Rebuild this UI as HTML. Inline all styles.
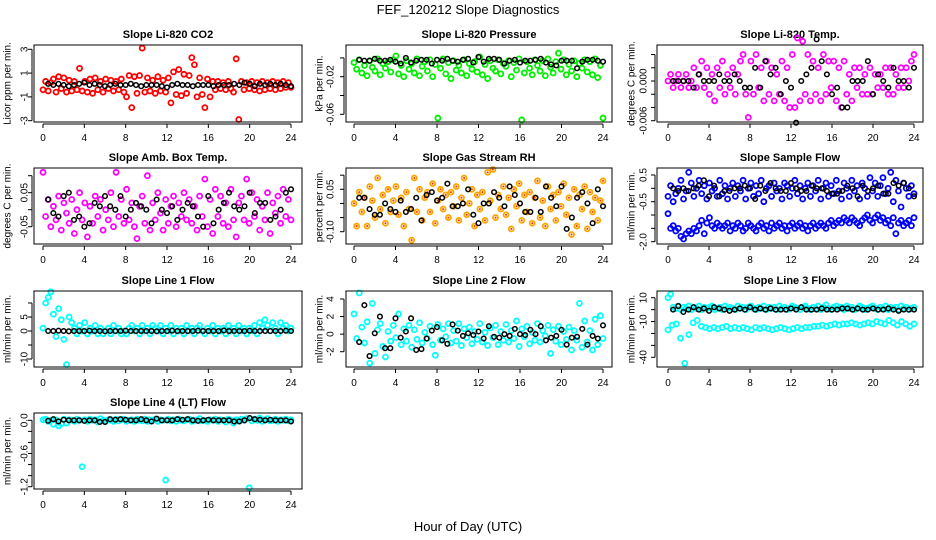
<!DOCTYPE html>
<html><head><meta charset="utf-8">
<style>
body{margin:0;background:#fff;}
svg{display:block;font-family:"Liberation Sans",sans-serif;}
</style></head>
<body>
<svg id="chart" width="936" height="540" viewBox="0 0 936 540" xmlns="http://www.w3.org/2000/svg">
<rect width="936" height="540" fill="#fff"/>
<text x="468" y="14" text-anchor="middle" font-size="13">FEF_120212  Slope Diagnostics</text>
<text x="468" y="531" text-anchor="middle" font-size="13">Hour of Day (UTC)</text>
</svg>
<script>
const xTicks=[0,4,8,12,16,20,24];
const co2Red=[-0.4,0.3,-0.5,0.2,0.5,-0.6,0.7,-0.3,0.6,-0.6,0.4,-0.5,0.3,-0.4,1.4,-0.5,0.3,-0.6,0.5,-0.7,0.6,-0.4,0.3,-0.6,0.5,-0.3,0.4,-0.5,0.3,-0.4,0.5,-0.6,-1.0,0.8,-1.9,0.7,-0.7,0.8,3.1,-0.6,0.6,-0.5,0.4,-0.7,0.7,-0.5,0.4,-0.6,0.6,-1.5,1.1,-0.8,1.3,-0.9,0.9,-0.7,0.8,2.3,1.7,-1.0,0.6,-0.8,-1.9,0.5,-1.0,0.3,-0.4,0.3,-0.3,0.2,-0.4,0.3,-0.3,-0.6,2.2,-2.9,0.3,-0.4,0.2,-0.3,0.3,-0.4,0.2,-0.5,0.3,-0.4,0.2,-0.3,0.3,-0.4,0.2,-0.3,0.3,-0.2,0.2,-0.2];
const co2Black=[0.1,0.0,0.1,0.0,-0.1,0.0,0.1,0.2,0.0,0.1,0.0,-0.1,0.0,0.1,0.0,0.0,0.1,0.0,-0.1,0.0,0.0,0.0,-0.1,-0.2,0.0,0.1,0.0,0.0,-0.1,0.0,0.0,0.0,-0.1,0.0,0.0,0.0,0.1,0.0,0.2,0.1,-0.1,0.1,0.0,0.1,0.0,0.1,0.0,-0.1];
const presGreen=[-0.005,-0.012,-0.002,-0.016,-0.008,-0.019,-0.003,-0.010,-0.014,-0.001,-0.018,-0.006,-0.011,-0.004,-0.015,-0.002,0.002,-0.017,-0.008,-0.020,-0.003,-0.012,-0.006,-0.016,-0.001,-0.019,-0.009,-0.004,-0.014,-0.002,-0.020,-0.007,-0.064,-0.011,-0.001,-0.017,-0.005,-0.022,-0.003,-0.013,-0.008,-0.016,-0.002,-0.019,-0.006,-0.012,-0.004,-0.015,0.001,-0.018,-0.007,-0.022,-0.003,-0.011,-0.014,-0.002,-0.017,-0.006,-0.009,-0.003,-0.020,-0.005,-0.013,-0.001,-0.066,-0.016,-0.004,-0.011,-0.018,-0.002,-0.008,-0.014,-0.003,-0.019,-0.001,-0.010,-0.016,-0.004,0.005,-0.012,-0.002,-0.018,-0.007,-0.014,-0.003,-0.020,-0.006,-0.011,-0.002,-0.015,-0.004,-0.018,-0.001,-0.021,-0.008,-0.064];
const presBlack=[-0.002,-0.003,-0.003,-0.001,-0.003,-0.003,-0.002,-0.004,-0.006,0.000,-0.005,-0.003,-0.002,-0.002,-0.006,-0.002,-0.003,-0.001,-0.003,-0.004,-0.002,-0.001,-0.005,0.001,-0.004,-0.001,-0.001,-0.002,-0.006,-0.003,-0.002,-0.005,-0.003,-0.003,-0.002,-0.001,-0.005,-0.007,-0.008,-0.003,-0.003,-0.003,-0.011,-0.004,-0.002,-0.002,-0.003,-0.004];
const tempMag=[0.000,0.001,-0.001,0.000,0.001,-0.001,0.000,0.001,-0.001,0.000,0.002,-0.001,0.001,0.003,-0.001,0.002,-0.002,0.001,-0.003,0.002,-0.001,0.003,-0.002,0.001,-0.001,0.002,-0.002,0.001,0.003,0.004,-0.002,-0.0055,0.003,-0.002,0.004,-0.001,0.002,-0.003,0.003,-0.002,0.002,-0.003,0.001,-0.002,0.003,-0.003,0.002,-0.004,0.004,-0.004,0.0065,-0.003,0.006,-0.002,0.004,-0.003,0.003,-0.002,0.002,-0.003,0.004,-0.002,0.003,-0.001,0.003,-0.003,0.002,-0.004,0.003,-0.002,0.001,-0.003,0.002,-0.001,0.002,-0.002,0.001,-0.002,0.002,-0.002,0.001,-0.001,0.001,-0.001,0.002,-0.002,0.002,-0.002,0.001,-0.001,0.002,-0.001,0.002,0.000,0.003,0.004];
const tempBlack=[0,0,0,0,-0.001,0.001,0,0,0,0.001,0,0,0.001,0,-0.001,-0.001,0.002,-0.001,0.003,0.001,0.002,-0.002,0,-0.001,-0.0063,0,0.001,0.002,0.0063,0.003,0.001,-0.002,-0.001,-0.004,-0.004,0,0,0,0.003,-0.002,0.001,0,-0.001,0.002,0,0,-0.001,0.002];
const ambMag=[0.11,-0.02,0.03,-0.05,0.01,-0.03,0.04,-0.06,0.02,-0.01,-0.04,0.03,-0.07,0.00,0.05,-0.03,0.02,-0.08,0.01,-0.04,0.04,-0.02,0.03,-0.06,0.00,-0.03,0.05,-0.05,0.11,-0.02,0.03,-0.04,0.06,-0.03,0.02,-0.05,-0.085,0.01,0.04,-0.04,0.10,-0.06,0.02,-0.03,0.05,-0.01,-0.06,0.03,-0.04,0.01,0.04,-0.05,0.02,-0.02,0.05,-0.03,0.03,-0.04,0.01,-0.06,0.04,-0.02,0.09,-0.05,0.03,-0.07,0.06,-0.02,0.04,-0.04,0.02,-0.05,0.06,-0.03,-0.08,0.02,0.04,-0.03,0.09,-0.04,0.05,-0.02,0.03,-0.06,0.01,-0.03,0.05,-0.07,0.02,-0.01,0.04,-0.04,0.06,-0.02,0.03,-0.03];
const ambBlack=[0.03,-0.01,-0.02,0.04,0.05,-0.03,-0.02,-0.05,-0.04,0.02,0.01,0.04,0.01,0.00,0.04,-0.02,0.00,0.02,0.01,0.00,-0.04,0.03,0.00,-0.01,0.01,-0.03,0.00,0.02,0.01,-0.02,-0.05,0.04,-0.04,0.00,0.02,0.05,0.01,0.00,0.01,0.05,-0.01,0.02,0.02,-0.03,-0.02,0.00,0.05,0.06];
const rhOrange=[0.00,-0.08,0.04,-0.03,0.02,-0.08,0.06,0.01,-0.05,0.09,-0.02,0.03,-0.07,0.05,-0.03,0.01,0.06,-0.04,0.02,-0.08,0.04,-0.02,-0.13,0.09,-0.03,0.05,-0.06,0.02,0.04,-0.03,0.07,-0.07,0.01,0.05,-0.02,0.03,-0.05,0.04,-0.01,0.06,-0.06,0.02,0.09,-0.04,0.00,0.05,-0.08,0.03,-0.02,0.04,-0.06,0.11,0.01,0.12,-0.05,0.03,-0.02,0.06,-0.04,0.02,-0.09,0.05,-0.01,0.07,-0.06,0.03,-0.03,0.04,-0.07,0.02,0.08,-0.05,0.01,-0.08,0.06,-0.02,0.03,-0.06,0.04,-0.01,0.07,-0.04,0.02,-0.11,0.05,-0.08,0.03,-0.02,0.06,-0.09,0.04,-0.03,0.02,-0.06,0.01,0.08];
const rhBlack=[0.02,0.02,-0.02,-0.04,-0.04,0.00,-0.02,-0.03,0.01,-0.03,-0.02,0.02,-0.06,0.03,0.04,0.01,0.02,0.07,-0.01,-0.01,0.00,0.05,-0.04,-0.07,0.00,0.00,0.04,0.02,-0.01,0.06,0.03,0.00,-0.03,-0.03,0.02,-0.03,0.06,0.02,-0.01,0.06,-0.09,-0.05,0.02,0.04,0.00,-0.07,0.05,-0.01];
const flowUpper=[-0.3,0.1,-0.5,-0.2,0.0,0.3,-0.4,-0.1,0.6,0.2,-0.3,0.0,0.3,-0.2,0.1,-0.4,0.2,-0.1,0.0,-0.3,0.3,-0.2,0.1,-0.4,0.0,0.2,-0.3,0.1,-0.1,0.3,-0.4,0.0,0.2,-0.3,0.1,-0.2,0.3,-0.5,0.0,0.1,-0.3,0.2,-0.1,0.0,-0.4,0.2,0.1,-0.3,0.0,0.3,-0.2,0.1,-0.4,0.0,0.2,-0.3,0.1,-0.1,0.3,-0.4,0.0,0.2,-0.3,0.1,-0.2,0.3,-0.1,-0.4,0.2,0.0,-0.3,0.3,-0.1,0.1,-0.4,0.2,0.0,-0.3,0.4,-0.1,0.2,-0.3,0.1,0.4,-0.2,0.0,0.6,-0.5,0.3,-0.1,-0.7,0.2,0.0,-0.3,0.1,-0.2];
const flowLower=[-0.95,-1.5,-1.4,-1.6,-1.5,-1.8,-1.9,-1.7,-1.6,-1.7,-1.5,-1.6,-1.4,-1.2,-1.7,-1.3,-1.1,-1.4,-1.5,-1.3,-1.4,-1.5,-1.4,-1.3,-1.6,-1.4,-1.5,-1.3,-1.4,-1.6,-1.5,-1.3,-1.4,-1.5,-1.6,-1.4,-1.3,-1.5,-1.4,-1.6,-1.3,-1.5,-1.4,-1.3,-1.5,-1.4,-1.6,-1.4,-1.3,-1.5,-1.4,-1.3,-1.5,-1.4,-1.6,-1.4,-1.3,-1.5,-1.4,-1.3,-1.4,-1.5,-1.3,-1.2,-1.4,-1.3,-1.2,-1.3,-1.1,-1.2,-1.3,-1.1,-1.2,-1.3,-1.4,-1.2,-1.1,-1.0,-1.2,-1.3,-1.1,-1.0,-1.2,-1.1,-1.3,-1.2,-1.4,-1.1,-1.7,-1.3,-1.2,-1.4,-1.3,-1.2,-1.4,-1.1];
const flowBlack=[0,-0.1,0.0,-0.1,0.0,0.1,0.3,-0.3,0.1,-0.3,-0.1,-0.1,0.0,0.0,0.1,0.0,-0.4,0.1,-0.1,0.2,0.0,-0.1,-0.1,0.2,0.0,-0.1,-0.1,0.1,0.0,0.0,-0.1,-0.2,-0.2,-0.1,0.1,0.0,-0.3,0.1,-0.1,0.0,0.1,-0.2,-0.2,0.2,0.1,0.2,0.0,-0.3];
const line1Cyan=[1,10,12,14,6,-2,8,4,-3,-12,5,3,1,-1,2,0,3,-1,1,0,2,-1,1,-1,0,1,-1,2,0,1,-1,0,-1,1,2,0,1,-1,2,0,1,-1,2,1,0,2,-1,1,0,2,-1,1,0,1,-1,2,0,1,-1,1,2,0,-1,1,0,2,-1,1,0,1,-1,2,0,1,-1,2,0,1,-1,1,0,2,-1,3,1,4,2,0,3,1,-1,3,1,2,0,1];
const line1Black=[0,0,0.1,0,-0.1,0,0,0,0.1,0,0,-0.1,0,0,0,0.1,0,0,0,0,0,-0.1,0,0,0.1,0,0,0,0,0.1,0,0,0,0,0.2,0,0,0,0,0.1,0,0,0,0,0,0,0.1,0];
const line2Cyan=[2.3,-0.5,4.7,0.8,-1,1.4,-3.3,3.5,-2.2,0.5,1.2,-1.4,-2.6,0.3,-0.8,1.0,-0.4,2.3,-1.2,0.6,-0.8,1.0,-1.5,0.5,-0.6,1.3,-1,0.2,-0.5,0.9,-1.2,-2.4,1.1,-0.7,0.6,-0.3,1.2,-1,0.4,-0.8,1.2,-1.3,0.6,-0.4,0.8,-1.1,0.3,-0.6,1.2,-0.9,0.2,-1.3,0.7,-0.4,1.0,-1.2,0.3,-0.7,1.1,-0.9,0.4,-0.5,1.5,-1.4,0.6,-0.3,0.9,-1.1,0.2,-0.7,1.2,-0.9,0.4,-0.2,1.0,-2.2,0.5,-0.8,0.9,-1.2,0.3,-0.6,0.8,-1.8,0.4,-0.7,3.5,-1.5,1.5,-0.9,0.4,-1.8,1.7,-1.2,2.1,-0.5];
const line2Black=[-0.9,3.3,-2.5,0.1,2.0,-1.6,-1.6,1.8,-0.4,0.3,1.8,-1.8,-1.7,-0.5,0.4,0.8,-0.7,-1.1,1.1,0.4,-0.2,0.1,-0.1,0.3,-0.5,0.9,-0.3,-0.4,0.0,-0.2,0.6,0.0,-0.1,0.5,0.0,0.9,-0.7,-0.4,-0.2,0.5,-1.2,-0.4,-0.3,0.6,-1.2,-0.2,-0.5,1.0];
const line3Upper=[10,13,2,1,3,0,2,1,3,0,2,1,3,0,2,1,2,3,0,1,2,0,3,1,2,1,0,3,1,2,0,2,3,1,0,2,1,3,0,2,1,2,0,3,1,2,0,1,3,2,1,0,2,3,1,0,2,1,3,0,2,4,1,0,2,3,1,2,0,3,1,2,0,1,3,2,0,1,2,3,1,0,2,1,3,0,2,1,2,0,3,1,2,0,1,2];
const line3Lower=[-17,-13,-12,-24,-45,-21,-11,-9,-14,-15,-16,-15,-16,-15,-14,-16,-15,-16,-15,-16,-17,-15,-16,-15,-16,-17,-16,-15,-16,-17,-16,-15,-16,-15,-15,-14,-14,-13,-14,-13,-12,-13,-12,-12,-11,-12,-13,-12,-11,-12,-10,-11,-12,-9,-11,-13,-10,-12,-14,-12];
const line3Black=[0,3,-2,0,2,0,1,-1,2,1,0,-1,0,1,0,2,0,1,0,1,0,0,0,1,0,2,0,0,0,1,0,0,0,1,1,0,1,0,0,1,0,0,1,0,-1,0,0,0];
const line4Cyan=[0.01,0.02,-0.02,0.0,-0.07,0.01,-0.1,-0.06,0.02,-0.05,0.01,0.0,-0.02,0.02,0.0,-0.84,0.01,-0.02,0.02,0.0,0.01,-0.03,0.03,0.0,-0.02,0.01,0.0,-0.02,0.02,-0.01,0.01,0.02,-0.02,0.0,0.01,-0.02,0.02,0.0,-0.01,0.02,-0.02,0.01,0.0,0.02,-0.02,0.01,0.0,-1.08,0.02,-0.01,0.01,-0.02,0.02,0.0,-0.01,0.01,0.02,-0.02,0.0,0.01,0.03,-0.01,0.0,-0.02,0.01,0.0,0.02,-0.02,0.01,0.0,-0.03,0.02,0.0,-0.05,0.01,0.0,0.02,0.0,0.03,-1.22,-0.01,0.02,0.0,0.04,-0.02,0.01,0.03,-0.01,0.0,0.02,-0.02,0.01,0.0,0.02,-0.01,0.01];
const line4Black=[-0.01,0.02,-0.02,0.01,0.0,0.0,0.0,-0.01,0.0,0.0,-0.03,-0.03,0.02,0.01,0.02,0.01,0.0,0.0,0.02,0.0,-0.02,0.03,0.0,0.0,0.0,0.02,0.01,0.02,0.0,-0.01,0.0,0.01,0.0,0.0,0.0,0.0,-0.02,-0.02,0.0,0.04,0.02,0.01,0.0,0.01,0.0,0.0,0.0,-0.02];

const NS='http://www.w3.org/2000/svg';
const svg=document.getElementById('chart');
function el(tag,attrs,parent){const e=document.createElementNS(NS,tag);for(const k in attrs)e.setAttribute(k,attrs[k]);(parent||svg).appendChild(e);return e;}
const cols=[{bl:34,br:302,x0:43,x24:291,tl:25,yt:8},{bl:346,br:612,x0:354,x24:603,tl:331,yt:320},{bl:657,br:923,x0:668,x24:914,tl:644,yt:632}];
const rows=[{top:45,bot:122},{top:168,bot:244},{top:291,bot:367},{top:413,bot:489}];
const panels=[
 {name:'co2',title:'Slope Li-820 CO2',ylab:'Licor ppm per min.',c:0,r:0,a:[3,49.3,-3,120.7],ticks:[3,1,-1,-3],labels:['3','1','-1','-3'],color:'#ff0000',series:[co2Red],black:co2Black},
 {name:'pressure',title:'Slope Li-820 Pressure',ylab:'kPa per min.',c:1,r:0,a:[-0.02,76.7,-0.06,114.3],ticks:[0,-0.02,-0.04,-0.06],labels:['','-0.02','','-0.06'],color:'#00ee00',series:[presGreen],black:presBlack},
 {name:'temp',title:'Slope Li-820 Temp.',ylab:'degrees C per min.',c:2,r:0,a:[0,81,-0.006,120.7],ticks:[0.004,0.002,0,-0.002,-0.004,-0.006],labels:['','','0.000','','','-0.006'],color:'#ff00ff',series:[tempMag],black:tempBlack},
 {name:'amb-temp',title:'Slope Amb. Box Temp.',ylab:'degrees C per min.',c:0,r:1,a:[0.05,192.7,-0.05,226.7],ticks:[0.1,0.05,0,-0.05],labels:['','0.05','','-0.05'],color:'#ff00ff',series:[ambMag],black:ambBlack},
 {name:'rh',title:'Slope Gas Stream RH',ylab:'percent per min.',c:1,r:1,a:[0.05,189.3,-0.10,231.7],ticks:[0.1,0.05,0,-0.05,-0.1],labels:['','0.05','','','-0.10'],color:'#ffa500',series:[rhOrange],black:rhBlack},
 {name:'sample-flow',title:'Slope Sample Flow',ylab:'ml/min per min.',c:2,r:1,a:[0.5,175,-2.0,241.7],ticks:[0.5,0,-0.5,-1,-1.5,-2],labels:['0.5','','-0.5','','','-2.0'],color:'#0000ff',series:[flowUpper,flowLower],black:flowBlack},
 {name:'line1-flow',title:'Slope Line 1 Flow',ylab:'ml/min per min.',c:0,r:2,a:[10,303,-10,359],ticks:[10,5,0,-5,-10],labels:['','5','0','','-10'],color:'#00ffff',series:[line1Cyan],black:line1Black},
 {name:'line2-flow',title:'Slope Line 2 Flow',ylab:'ml/min per min.',c:1,r:2,a:[4,299,-2,351.7],ticks:[4,2,0,-2],labels:['4','2','0','-2'],color:'#00ffff',series:[line2Cyan],black:line2Black},
 {name:'line3-flow',title:'Slope Line 3 Flow',ylab:'ml/min per min.',c:2,r:2,a:[10,297.7,-40,357.3],ticks:[10,0,-10,-20,-30,-40],labels:['10','','-10','','','-40'],color:'#00ffff',series:[line3Upper,line3Lower],black:line3Black},
 {name:'line4-flow',title:'Slope Line 4 (LT) Flow',ylab:'ml/min per min.',c:0,r:3,a:[0,420.3,-1.2,486.7],ticks:[0,-0.2,-0.4,-0.6,-0.8,-1.0,-1.2],labels:['0.0','','','-0.6','','','-1.2'],color:'#00ffff',series:[line4Cyan],black:line4Black}
];
panels.forEach(p=>{
 const C=cols[p.c],R=rows[p.r];
 const g=el('g',{});
 
 
 const xs=h=>C.x0+(C.x24-C.x0)*h/24;
 const ys=v=>p.a[1]+(v-p.a[0])*(p.a[3]-p.a[1])/(p.a[2]-p.a[0]);
 const t=el('text',{x:(C.bl+C.br)/2,y:R.top-7,'text-anchor':'middle','font-size':'11','font-weight':'bold'},g);
 t.textContent=p.title;
 
 
 const cy=(R.top+R.bot)/2;
 const yl=el('text',{x:C.yt,y:cy,'text-anchor':'middle','font-size':'10',transform:`rotate(-90 ${C.yt} ${cy})`,'dominant-baseline':'middle'},g);
 yl.textContent=p.ylab;
 
 
 const pts=el('g',{fill:'none'},g);
 
 
 p.series.forEach(s=>{
  s.forEach((v,i)=>{
   const c=el('circle',{cx:xs(i*24/(s.length-1)),cy:ys(v),r:2.5,stroke:p.color,'stroke-width':'1.8'},pts);
   
   
   if(p.name==='rh'){const d=el('circle',{cx:xs(i*24/(s.length-1)),cy:ys(v),r:1,fill:'#ff3300',stroke:'none'},pts);
    
    }
  });
 });
 p.black.forEach((v,i)=>{
  const h=0.5+i*23.5/(p.black.length-1);
  const c=el('circle',{cx:xs(h),cy:ys(v),r:2.3,stroke:'#000','stroke-width':'1.5'},pts);
  
  
 });
 const b=el('rect',{x:C.bl,y:R.top,width:C.br-C.bl,height:R.bot-R.top,fill:'none',stroke:'#000','stroke-width':'1'},g);
 
 
 const xa=el('g',{stroke:'#000','stroke-width':'1'},g);
 
 
 el('line',{x1:xs(0),x2:xs(24),y1:R.bot+2,y2:R.bot+2},xa);
 xTicks.forEach(h=>{
  el('line',{x1:xs(h),x2:xs(h),y1:R.bot+2,y2:R.bot+6},xa);
  const tx=el('text',{x:xs(h),y:R.bot+19,'text-anchor':'middle','font-size':'10',stroke:'none',fill:'#000'},xa);
  tx.textContent=h;
  
  
 });
 const ya=el('g',{stroke:'#000','stroke-width':'1'},g);
 
 
 const ax=C.bl-2;
 el('line',{x1:ax,x2:ax,y1:ys(p.ticks[0]),y2:ys(p.ticks[p.ticks.length-1])},ya);
 p.ticks.forEach((v,i)=>{
  el('line',{x1:ax-4,x2:ax,y1:ys(v),y2:ys(v)},ya);
  if(p.labels[i]){
   const tx=el('text',{x:C.tl,y:ys(v),'text-anchor':'middle','font-size':'10',stroke:'none',fill:'#000',transform:`rotate(-90 ${C.tl} ${ys(v)})`,'dominant-baseline':'middle'},ya);
   tx.textContent=p.labels[i];
   
   
  }
 });
});
</script>
</body></html>
